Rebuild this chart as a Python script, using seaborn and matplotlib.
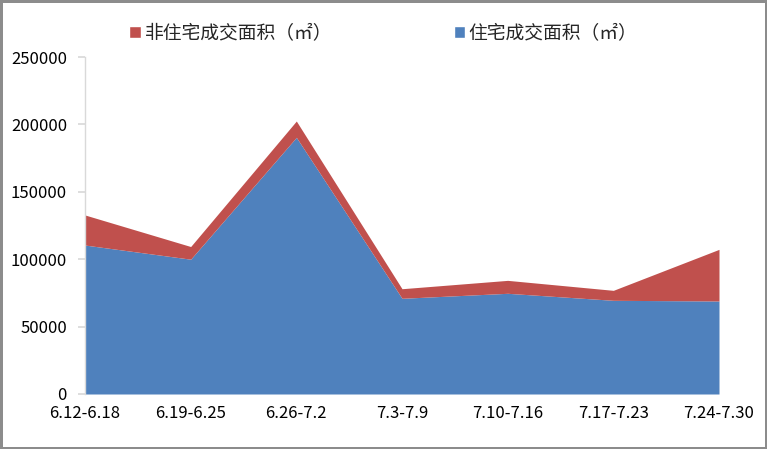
import matplotlib
matplotlib.use("Agg")
import matplotlib.pyplot as plt
import seaborn as sns
import numpy as np
from matplotlib.patches import Patch

categories = ["6.12-6.18", "6.19-6.25", "6.26-7.2", "7.3-7.9", "7.10-7.16", "7.17-7.23", "7.24-7.30"]
residential = [110500, 100000, 190400, 71000, 74700, 69500, 69000]
non_residential = [22300, 9400, 12100, 7100, 9600, 7400, 38300]
yticks = [0, 50000, 100000, 150000, 200000, 250000]

label_res = "住宅成交面积（㎡）"
label_non = "非住宅成交面积（㎡）"
blue = "#4F81BD"
red = "#C0504D"

sns.set_theme(style="white")
plt.rcParams['font.family'] = ['Liberation Sans Narrow', 'Noto Sans CJK SC', 'DejaVu Sans']

fig = plt.figure(figsize=(7.67, 4.49), dpi=100)
fig.patch.set_edgecolor("#8c8c8c")
fig.patch.set_linewidth(2.5)
ax = fig.add_axes([85/767, 55/449, (719-85)/767, (394-57)/449])

x = np.arange(len(categories))
ax.stackplot(x, residential, non_residential, colors=[blue, red], linewidth=0)

ax.set_xlim(0, len(categories) - 1)
ax.set_ylim(0, 250000)
ax.set_yticks(yticks)
ax.set_yticklabels([str(v) for v in yticks])
ax.set_xticks(x)
ax.set_xticklabels(categories)
ax.tick_params(axis="y", labelsize=12, length=5, color="#d9d9d9", pad=8, left=True)
ax.tick_params(axis="x", labelsize=12, length=0, pad=8)
for lbl in ax.get_xticklabels() + ax.get_yticklabels():
    lbl.set_color("black")

for s in ["top", "right", "bottom"]:
    ax.spines[s].set_visible(False)
ax.spines["left"].set_color("#d9d9d9")
ax.spines["left"].set_linewidth(1)
ax.grid(False)

handles = [Patch(facecolor=red, label=label_non), Patch(facecolor=blue, label=label_res)]
fig.legend(handles=handles, loc="center", bbox_to_anchor=(0.5, 1 - 33/449), ncol=2,
           frameon=False, prop={"family": ["Noto Sans CJK SC", "DejaVu Sans"], "size": 13.5},
           handlelength=0.6, handleheight=0.6, handletextpad=0.2, columnspacing=6.5)

fig.savefig("out.png", dpi=100)
